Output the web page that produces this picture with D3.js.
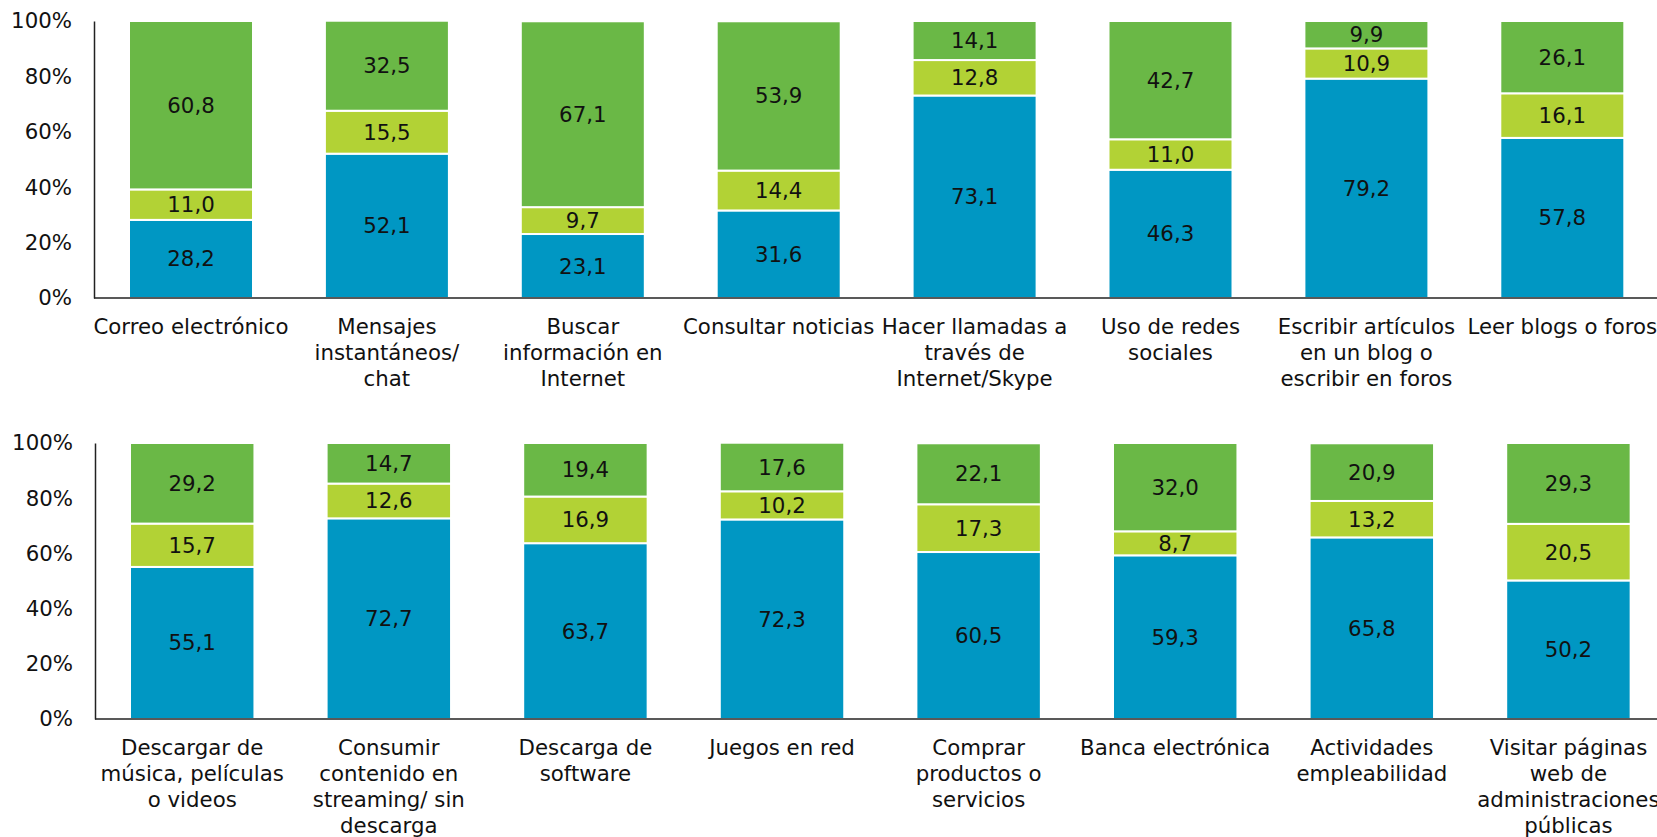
<!DOCTYPE html>
<html><head><meta charset="utf-8">
<script src="https://cdn.jsdelivr.net/npm/d3@7"></script>
<style>html,body{margin:0;padding:0;background:#fff;}svg{display:block;}</style>
</head><body>
<svg id="c" width="1657" height="837"></svg>
<script>
const categoriesTop = [
  ["Correo electrónico"],
  ["Mensajes", "instantáneos/", "chat"],
  ["Buscar", "información en", "Internet"],
  ["Consultar noticias"],
  ["Hacer llamadas a", "través de", "Internet/Skype"],
  ["Uso de redes", "sociales"],
  ["Escribir artículos", "en un blog o", "escribir en foros"],
  ["Leer blogs o foros"]
];
const blueTop  = [28.2, 52.1, 23.1, 31.6, 73.1, 46.3, 79.2, 57.8];
const limeTop  = [11.0, 15.5, 9.7, 14.4, 12.8, 11.0, 10.9, 16.1];
const greenTop = [60.8, 32.5, 67.1, 53.9, 14.1, 42.7, 9.9, 26.1];

const categoriesBottom = [
  ["Descargar de", "música, películas", "o videos"],
  ["Consumir", "contenido en", "streaming/ sin", "descarga"],
  ["Descarga de", "software"],
  ["Juegos en red"],
  ["Comprar", "productos o", "servicios"],
  ["Banca electrónica"],
  ["Actividades", "empleabilidad"],
  ["Visitar páginas", "web de", "administraciones", "públicas"]
];
const blueBottom  = [55.1, 72.7, 63.7, 72.3, 60.5, 59.3, 65.8, 50.2];
const limeBottom  = [15.7, 12.6, 16.9, 10.2, 17.3, 8.7, 13.2, 20.5];
const greenBottom = [29.2, 14.7, 19.4, 17.6, 22.1, 32.0, 20.9, 29.3];

const yTicks = [0, 20, 40, 60, 80, 100];
const seriesKeys = ["blue", "lime", "green"];
const colors = {blue: "#0097C3", lime: "#B2D235", green: "#6AB846"};

const svg = d3.select("#c");
const FONT = "'DejaVu Sans', Verdana, sans-serif";
const FS = 21.3;

function panel(cats, blue, lime, green, x0, step, outerPx, yTop, yBot) {
  const g = svg.append("g");
  const n = cats.length;
  const data = cats.map((c, i) => ({i, blue: blue[i], lime: lime[i], green: green[i]}));
  const pi = 0.367, po = outerPx / step;
  const x = d3.scaleBand().domain(d3.range(n))
    .range([x0, x0 + step * (n - pi + 2 * po)]).paddingInner(pi).paddingOuter(po);
  const y = d3.scaleLinear().domain([0, 100]).range([yBot, yTop]);
  const stack = d3.stack().keys(seriesKeys)(data);

  stack.forEach(layer => {
    const key = layer.key;
    g.append("g").selectAll("rect").data(layer).join("rect")
      .attr("x", d => x(d.data.i))
      .attr("width", x.bandwidth())
      .attr("y", d => y(d[1]))
      .attr("height", d => y(d[0]) - y(d[1]))
      .attr("fill", colors[key])
      .attr("stroke", "#fff").attr("stroke-width", 2);
    g.append("g").selectAll("text").data(layer).join("text")
      .attr("x", d => x(d.data.i) + x.bandwidth() / 2)
      .attr("y", d => (y(d[0]) + y(d[1])) / 2)
      .attr("text-anchor", "middle").attr("dominant-baseline", "central")
      .attr("font-family", FONT).attr("font-size", FS).attr("fill", "#111")
      .text(d => d3.format(".1f")(d.data[key]).replace(".", ","));
  });

  const ya = g.append("g").attr("transform", `translate(${x0},0)`)
    .call(d3.axisLeft(y).tickValues(yTicks).tickSize(0).tickPadding(22).tickFormat(d => d + "%"));
  ya.select(".domain").attr("stroke", "#222").attr("stroke-width", 1.5);
  ya.selectAll("text").attr("font-family", FONT).attr("font-size", FS).attr("fill", "#111");

  const xa = g.append("g").attr("transform", `translate(0,${yBot})`);
  xa.append("line").attr("x1", x0).attr("x2", 1657).attr("stroke", "#222").attr("stroke-width", 1.5);
  const lbl = xa.selectAll("text.cat").data(cats).join("text").attr("class", "cat")
    .attr("text-anchor", "middle").attr("font-family", FONT).attr("font-size", FS).attr("fill", "#111")
    .attr("transform", (d, i) => `translate(${x(i) + x.bandwidth() / 2},36)`);
  lbl.selectAll("tspan").data(d => d).join("tspan")
    .attr("x", 0).attr("y", (d, j) => j * 26).text(d => d);
}

panel(categoriesTop, blueTop, limeTop, greenTop, 94, 195.9, 35, 21, 298);
panel(categoriesBottom, blueBottom, limeBottom, greenBottom, 95, 196.6, 35, 443, 719);
</script>
</body></html>
